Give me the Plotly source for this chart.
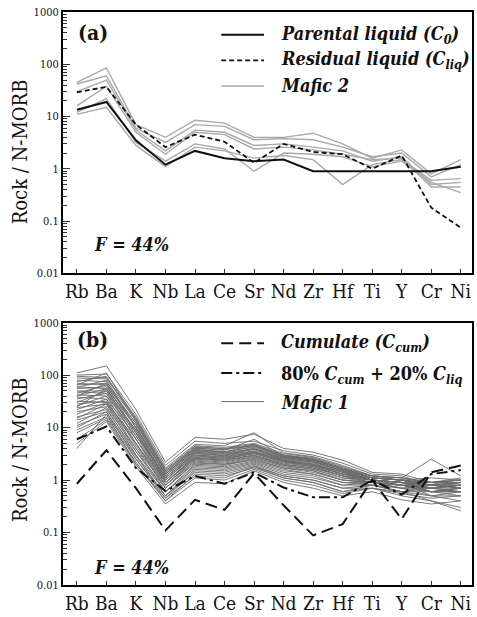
import plotly.graph_objects as go

# Elements on the x axis (N-MORB normalised spider diagram)
elements = ["Rb", "Ba", "K", "Nb", "La", "Ce", "Sr", "Nd", "Zr", "Hf", "Ti", "Y", "Cr", "Ni"]

# Panel (a)
parental = [13.5, 19, 3.5, 1.2, 2.2, 1.6, 1.4, 1.5, 0.9, 0.9, 0.9, 0.9, 0.9, 1.1]
residual = [29, 37, 7.0, 2.6, 4.5, 3.3, 1.3, 3.0, 2.1, 1.9, 1.0, 1.8, 0.18, 0.075]
mafic2 = [
    [45, 85, 7.0, 4.0, 8.5, 7.5, 4.0, 4.0, 4.8, 3.0, 1.6, 2.3, 0.8, 1.5],
    [42, 60, 6.0, 3.2, 7.0, 6.5, 3.6, 3.8, 3.6, 2.6, 1.7, 2.0, 0.7, 1.2],
    [30, 50, 5.5, 2.2, 5.5, 5.0, 2.8, 3.0, 2.6, 2.2, 1.4, 1.7, 0.5, 0.55],
    [16, 38, 5.0, 1.9, 5.0, 4.5, 2.4, 2.6, 2.3, 1.9, 1.5, 1.6, 0.45, 0.45],
    [12, 22, 3.2, 1.4, 3.0, 2.4, 0.9, 2.0, 1.9, 1.7, 1.1, 1.4, 0.55, 0.35],
    [11, 15, 2.8, 1.1, 2.6, 2.2, 1.6, 1.8, 1.5, 0.5, 1.2, 1.5, 0.6, 0.65],
]

# Panel (b)
cumulate = [0.85, 3.7, 0.7, 0.11, 0.42, 0.27, 1.35, 0.33, 0.088, 0.145, 1.0, 0.18, 1.4, 1.9]
mixture = [6.0, 10.5, 1.7, 0.62, 1.2, 0.85, 1.4, 0.72, 0.47, 0.47, 1.0, 0.53, 1.3, 1.55]
mafic1 = [
    [110, 150, 22, 2.2, 6.5, 6.0, 7.5, 4.0, 3.4, 2.4, 1.4, 1.3, 0.9, 1.1],
    [100, 105, 18, 1.9, 5.5, 5.0, 5.5, 3.6, 3.0, 2.1, 1.3, 1.2, 0.8, 0.9],
    [95, 90, 16, 1.7, 4.8, 4.5, 8.0, 3.3, 2.8, 1.9, 1.2, 1.1, 2.5, 1.2],
    [88, 85, 15, 1.6, 4.5, 4.2, 5.0, 3.2, 2.7, 1.8, 1.2, 1.1, 0.9, 1.0],
    [80, 75, 14, 1.5, 4.2, 4.0, 4.8, 3.0, 2.6, 1.7, 1.2, 1.0, 0.7, 0.8],
    [75, 95, 13, 1.4, 4.0, 3.8, 4.5, 2.9, 2.5, 1.7, 1.1, 1.0, 1.1, 1.0],
    [70, 65, 12, 1.3, 3.8, 3.5, 4.2, 2.8, 2.4, 1.6, 1.1, 1.0, 0.8, 0.9],
    [65, 70, 12, 1.5, 4.4, 3.9, 4.6, 3.0, 2.5, 1.6, 1.2, 1.1, 0.9, 0.7],
    [60, 55, 11, 1.2, 3.6, 3.3, 4.0, 2.7, 2.3, 1.5, 1.1, 1.0, 0.7, 0.8],
    [58, 80, 10, 1.1, 3.4, 3.1, 3.8, 2.6, 2.2, 1.5, 1.0, 0.9, 0.9, 0.9],
    [55, 60, 10, 1.3, 3.9, 3.4, 4.4, 2.8, 2.4, 1.6, 1.1, 1.0, 0.8, 0.7],
    [50, 50, 9, 1.0, 3.2, 3.0, 3.6, 2.5, 2.1, 1.4, 1.0, 0.9, 0.6, 0.6],
    [48, 45, 9, 1.1, 3.3, 2.9, 3.5, 2.4, 2.0, 1.4, 1.0, 0.9, 0.7, 0.8],
    [45, 65, 8, 1.0, 3.0, 2.8, 3.4, 2.4, 2.0, 1.3, 1.0, 0.9, 0.8, 0.9],
    [42, 40, 8, 0.9, 2.9, 2.6, 3.3, 2.3, 1.9, 1.3, 1.0, 0.8, 0.6, 0.7],
    [40, 55, 7, 1.2, 3.5, 3.2, 3.9, 2.6, 2.2, 1.5, 1.1, 1.0, 0.9, 1.0],
    [38, 35, 7, 0.9, 2.7, 2.5, 3.2, 2.2, 1.8, 1.2, 0.9, 0.8, 0.7, 0.6],
    [35, 45, 6, 0.8, 2.6, 2.4, 3.0, 2.1, 1.8, 1.2, 1.0, 0.9, 0.8, 0.8],
    [32, 30, 6, 0.9, 2.8, 2.6, 3.2, 2.2, 1.9, 1.3, 1.0, 0.9, 0.6, 0.5],
    [30, 50, 6, 1.0, 3.0, 2.7, 3.4, 2.3, 1.9, 1.3, 1.1, 1.0, 0.9, 0.9],
    [28, 32, 5, 0.8, 2.5, 2.3, 2.9, 2.0, 1.7, 1.2, 0.9, 0.8, 0.7, 0.7],
    [26, 40, 5, 0.7, 2.4, 2.2, 2.8, 1.9, 1.6, 1.1, 0.9, 0.8, 0.8, 0.8],
    [24, 28, 5, 0.9, 2.6, 2.4, 3.0, 2.0, 1.7, 1.2, 1.0, 0.9, 0.5, 0.4],
    [22, 35, 4.5, 0.7, 2.2, 2.0, 2.6, 1.8, 1.5, 1.0, 0.9, 0.8, 0.7, 0.6],
    [20, 25, 4, 0.8, 2.3, 2.1, 2.7, 1.9, 1.6, 1.1, 1.0, 0.8, 0.6, 0.7],
    [18, 30, 4, 0.6, 2.0, 1.9, 2.5, 1.7, 1.4, 1.0, 0.9, 0.7, 0.7, 0.8],
    [16, 22, 3.5, 0.7, 2.1, 2.0, 2.4, 1.7, 1.5, 1.0, 0.9, 0.8, 0.6, 0.6],
    [15, 28, 3.5, 0.6, 1.9, 1.8, 2.3, 1.6, 1.3, 0.9, 0.9, 0.7, 0.8, 0.7],
    [14, 20, 3, 0.5, 1.8, 1.7, 2.2, 1.5, 1.3, 0.9, 0.8, 0.7, 0.5, 0.5],
    [12, 24, 3, 0.6, 1.7, 1.6, 2.1, 1.4, 1.2, 0.8, 0.9, 0.7, 0.6, 0.6],
    [11, 18, 2.8, 0.5, 1.6, 1.5, 2.0, 1.3, 1.1, 0.8, 0.8, 0.6, 0.4, 0.3],
    [10, 20, 2.5, 0.45, 1.5, 1.4, 1.9, 1.2, 1.0, 0.7, 0.8, 0.6, 0.7, 0.8],
    [9, 16, 2.5, 0.5, 1.4, 1.3, 1.8, 1.2, 1.0, 0.7, 0.7, 0.6, 0.5, 0.6],
    [8, 15, 2.2, 0.4, 1.3, 1.2, 1.7, 1.1, 0.9, 0.6, 0.8, 0.6, 0.6, 0.7],
    [6, 14, 2.0, 0.4, 1.1, 1.0, 1.6, 1.0, 0.8, 0.55, 0.7, 0.5, 0.4, 0.26],
    [5, 13, 1.8, 0.35, 0.9, 0.85, 1.5, 0.9, 0.7, 0.5, 0.6, 0.42, 0.35, 0.4],
    [4, 18, 2.0, 0.45, 1.2, 1.1, 1.8, 1.1, 0.9, 0.6, 0.7, 0.55, 0.45, 0.5],
    [65, 110, 14, 1.4, 4.1, 3.7, 6.0, 2.9, 2.5, 1.6, 1.1, 1.0, 0.9, 1.0],
    [40, 70, 10, 1.3, 3.7, 3.4, 4.8, 2.7, 2.3, 1.5, 1.0, 0.9, 0.8, 0.9],
    [25, 55, 8, 1.1, 3.2, 2.9, 4.0, 2.4, 2.0, 1.4, 1.0, 0.9, 0.7, 0.9],
]

y_ticks = [0.01, 0.1, 1, 10, 100, 1000]
y_ticklabels = ["0.01", "0.1", "1", "10", "100", "1000"]

SERIF = "DejaVu Serif Condensed, DejaVu Serif"
W, H = 477, 617
ML, MR, MT, MB = 63, 3, 12, 24
PW, PH = W - ML - MR, H - MT - MB


def px(x):
    return (x - ML) / PW


def py(y):
    return (H - MB - y) / PH


fig = go.Figure()

# panel (a) traces
for row in mafic2:
    fig.add_trace(go.Scatter(x=elements, y=row, mode="lines", xaxis="x", yaxis="y",
                             line=dict(color="#a9a9a9", width=1.4), showlegend=False))
fig.add_trace(go.Scatter(x=elements, y=residual, mode="lines", xaxis="x", yaxis="y",
                         line=dict(color="#111", width=1.8, dash="5px,3px"), showlegend=False))
fig.add_trace(go.Scatter(x=elements, y=parental, mode="lines", xaxis="x", yaxis="y",
                         line=dict(color="#111", width=2.0), showlegend=False))

# panel (b) traces
for row in mafic1:
    fig.add_trace(go.Scatter(x=elements, y=row, mode="lines", xaxis="x2", yaxis="y2",
                             line=dict(color="#6a6a6a", width=0.9), showlegend=False))
fig.add_trace(go.Scatter(x=elements, y=mixture, mode="lines", xaxis="x2", yaxis="y2",
                         line=dict(color="#111", width=2.0, dash="11px,4px,3px,4px"), showlegend=False))
fig.add_trace(go.Scatter(x=elements, y=cumulate, mode="lines", xaxis="x2", yaxis="y2",
                         line=dict(color="#111", width=2.0, dash="12px,6px"), showlegend=False))

minor_vals = [m * 10 ** e for e in range(-2, 3) for m in range(2, 10)]

xaxis_style = dict(type="category", categoryorder="array", categoryarray=elements,
                   range=[-0.47, 13.38], showline=True, mirror=True, linecolor="black",
                   linewidth=2, ticks="inside", ticklen=4, tickwidth=1, tickcolor="#333",
                   showgrid=False, zeroline=False,
                   tickfont=dict(family=SERIF, size=19, color="#111"))
yaxis_style = dict(type="log", range=[-2, 3], tickvals=y_ticks, ticktext=y_ticklabels,
                   showline=True, mirror=True, linecolor="black", linewidth=2,
                   ticks="inside", ticklen=7, tickwidth=1, tickcolor="#333",
                   minor=dict(tickvals=minor_vals, ticks="inside", ticklen=4, tickcolor="#333"),
                   showgrid=False, zeroline=False,
                   tickfont=dict(family=SERIF, size=11, color="#111"))

top_dom = [py(277), 1.0]
bot_dom = [0.0, py(327)]

fig.update_layout(
    width=W, height=H,
    margin=dict(l=ML, r=MR, t=MT, b=MB),
    paper_bgcolor="white", plot_bgcolor="white",
    font=dict(family=SERIF),
    xaxis=dict(xaxis_style, anchor="y"),
    yaxis=dict(yaxis_style, anchor="x", domain=top_dom),
    xaxis2=dict(xaxis_style, anchor="y2"),
    yaxis2=dict(yaxis_style, anchor="x2", domain=bot_dom),
    showlegend=False,
)

ann = []
shapes = []


def text(x, y, s, size, xanchor="center", angle=0):
    ann.append(dict(x=px(x), y=py(y), xref="paper", yref="paper", text=s, showarrow=False,
                    xanchor=xanchor, yanchor="middle", textangle=angle,
                    font=dict(family=SERIF, size=size, color="#111")))


def sample(y, color, width, dash):
    shapes.append(dict(type="line", xref="paper", yref="paper", x0=px(222), x1=px(265),
                       y0=py(y), y1=py(y), line=dict(color=color, width=width, dash=dash)))


# axis titles
text(20, 154, "Rock / N-MORB", 20, angle=-90)
text(20, 456, "Rock / N-MORB", 20, angle=-90)

# panel tags and melt fraction
text(93, 33, "<b>(a)</b>", 21)
text(93, 344, "<b>(b)</b>", 21)
text(132, 248, "<b><i>F = 44%</i></b>", 18)
text(132, 575, "<b><i>F = 44%</i></b>", 18)

# legend, panel (a)
sample(35, "#111", 2.0, "solid")
sample(61, "#111", 1.8, "5px,3px")
sample(87, "#a9a9a9", 1.4, "solid")
text(280, 35, "<b><i>Parental liquid (C<sub>0</sub>)</i></b>", 18, "left")
text(280, 61, "<b><i>Residual liquid (C<sub>liq</sub>)</i></b>", 18, "left")
text(280, 87, "<b><i>Mafic 2</i></b>", 18, "left")

# legend, panel (b)
sample(348, "#111", 2.0, "12px,6px")
sample(378, "#111", 2.0, "11px,4px,3px,4px")
sample(407, "#6a6a6a", 1.0, "solid")
text(280, 348, "<b><i>Cumulate (C<sub>cum</sub>)</i></b>", 18, "left")
text(280, 380, "<b>80% <i>C<sub>cum</sub></i> + 20% <i>C<sub>liq</sub></i></b>", 18, "left")
text(280, 408, "<b><i>Mafic 1</i></b>", 18, "left")

fig.update_layout(annotations=ann, shapes=shapes)

fig.write_html("out.html")
